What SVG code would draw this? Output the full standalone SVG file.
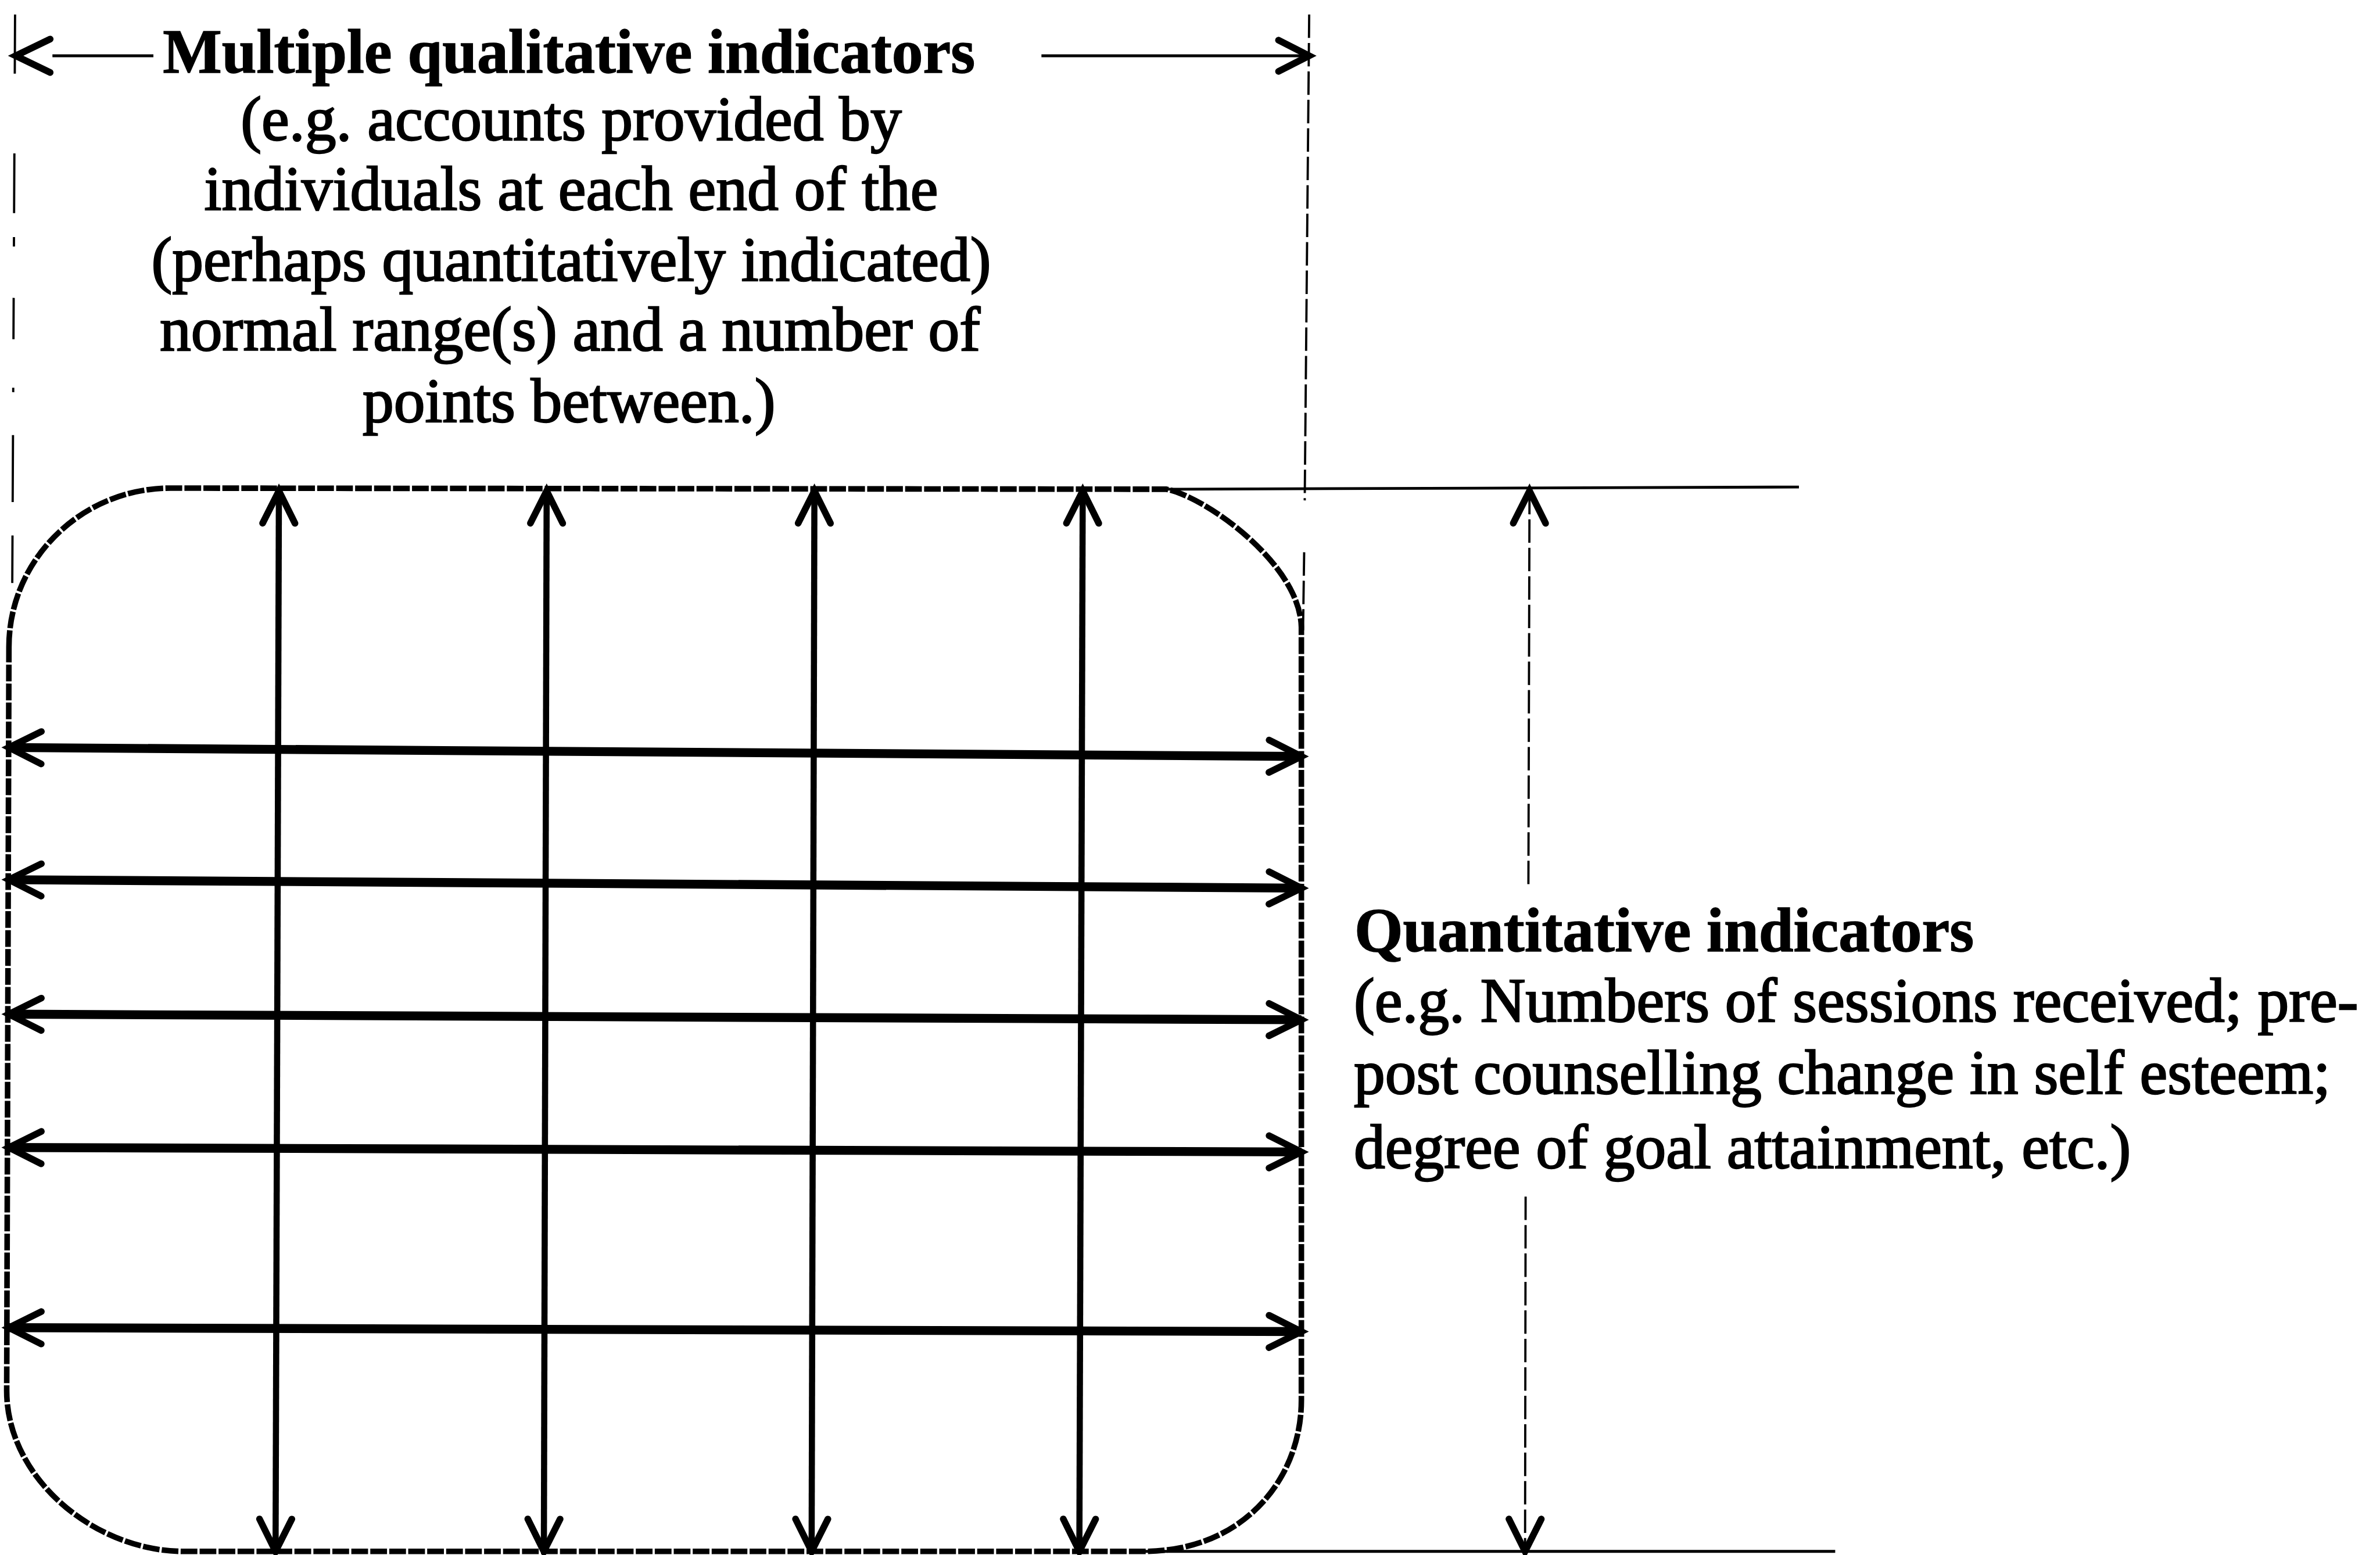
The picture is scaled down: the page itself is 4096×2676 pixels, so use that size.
<svg xmlns="http://www.w3.org/2000/svg" width="4096" height="2676" viewBox="0 0 4096 2676">
<defs>
<style>
.t{font-family:"Liberation Serif","Times New Roman",serif;font-size:112px;fill:#000;stroke:#000;stroke-width:2.5}
.b{font-weight:bold;stroke-width:1.5}
.head{fill:none;stroke:#000;stroke-width:12;stroke-linecap:round;stroke-linejoin:miter}
.vline{stroke:#000;stroke-width:11;fill:none}
.hline{stroke:#000;stroke-width:16;fill:none}
.thin{stroke:#000;stroke-width:5;fill:none}
.dash{stroke:#000;stroke-width:4;fill:none;stroke-dasharray:42 9}
</style>
<marker id="ah" markerUnits="userSpaceOnUse" orient="auto-start-reverse" refX="0" refY="0" markerWidth="80" markerHeight="80" overflow="visible">
<path class="head" d="M -58 -29 L 0 0 L -58 29"/>
</marker>
</defs>
<rect width="4096" height="2676" fill="#fff"/>
<g transform="scale(0.96)">
<g id="grid-box">
<path d="M 16 1160 C 16 1003 146 875 306 875 L 2091 877 C 2160 890 2330 1010 2333 1124 L 2333 2510 C 2333 2650 2230 2781 2050 2781 L 330 2781 C 170 2781 12 2650 12 2493 Z" fill="none" stroke="#000" stroke-width="10" stroke-dasharray="30 4"/>
</g>
<g id="connectors">
<line class="vline" x1="500" y1="880" x2="494" y2="2781" marker-start="url(#ah)" marker-end="url(#ah)"/>
<line class="vline" x1="980" y1="880" x2="975" y2="2781" marker-start="url(#ah)" marker-end="url(#ah)"/>
<line class="vline" x1="1460" y1="880" x2="1455" y2="2781" marker-start="url(#ah)" marker-end="url(#ah)"/>
<line class="vline" x1="1941" y1="880" x2="1935" y2="2781" marker-start="url(#ah)" marker-end="url(#ah)"/>
<line class="hline" x1="16" y1="1340" x2="2333" y2="1356" marker-start="url(#ah)" marker-end="url(#ah)"/>
<line class="hline" x1="16" y1="1577" x2="2333" y2="1592" marker-start="url(#ah)" marker-end="url(#ah)"/>
<line class="hline" x1="16" y1="1818" x2="2333" y2="1828" marker-start="url(#ah)" marker-end="url(#ah)"/>
<line class="hline" x1="16" y1="2057" x2="2333" y2="2065" marker-start="url(#ah)" marker-end="url(#ah)"/>
<line class="hline" x1="16" y1="2380" x2="2333" y2="2387" marker-start="url(#ah)" marker-end="url(#ah)"/>
<line x1="27" y1="26" x2="22" y2="1045" stroke="#000" stroke-width="4" stroke-dasharray="106 143 107 43 17 92 74 87 8 77 120 60"/>
<line class="dash" x1="2347" y1="26" x2="2339" y2="897"/>
<line class="dash" x1="2338" y1="990" x2="2336" y2="1130"/>
<polyline class="head" points="90,70 28,100 90,130"/>
<line class="thin" x1="94" y1="100" x2="275" y2="100"/>
<line class="thin" x1="1867" y1="100" x2="2345" y2="100"/>
<polyline class="head" points="2292,72 2347,100 2292,128"/>
<line class="thin" x1="2091" y1="877" x2="3225" y2="873"/>
<line class="thin" x1="2050" y1="2781" x2="3290" y2="2781"/>
<line class="dash" x1="2742" y1="880" x2="2740" y2="1587" marker-start="url(#ah)"/>
<line class="dash" x1="2735" y1="2145" x2="2734" y2="2781" marker-end="url(#ah)"/>
</g>
<g id="qualitative-label">
<text class="t b" x="1020" y="130" text-anchor="middle" font-size="114">Multiple qualitative indicators</text>
<text class="t" x="1024" y="251" text-anchor="middle">(e.g. accounts provided by</text>
<text class="t" x="1024" y="376" text-anchor="middle">individuals at each end of the</text>
<text class="t" x="1024" y="503" text-anchor="middle">(perhaps quantitatively indicated)</text>
<text class="t" x="1022" y="628" text-anchor="middle">normal range(s) and a number of</text>
<text class="t" x="1020" y="756" text-anchor="middle">points between.)</text>
</g>
<g id="quantitative-label">
<text class="t b" x="2428" y="1705">Quantitative indicators</text>
<text class="t" x="2427" y="1831">(e.g. Numbers of sessions received; pre-</text>
<text class="t" x="2427" y="1960">post counselling change in self esteem;</text>
<text class="t" x="2427" y="2094">degree of goal attainment, etc.)</text>
</g>
</g>
</svg>
